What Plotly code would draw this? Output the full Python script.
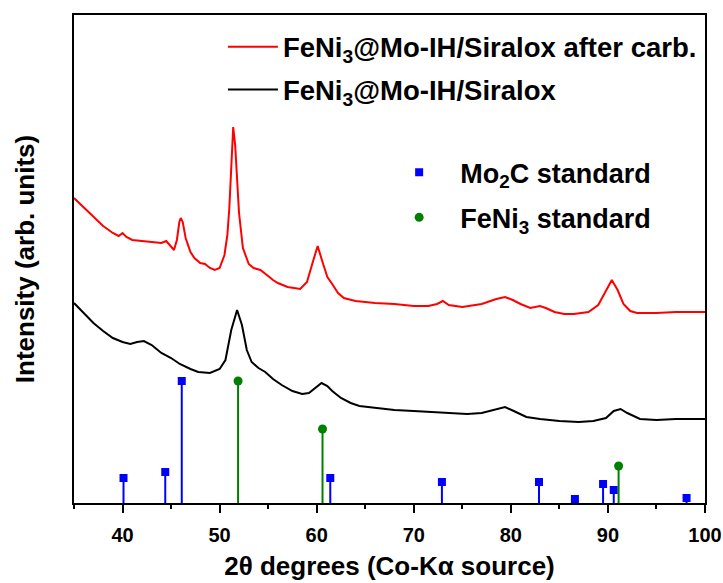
import plotly.graph_objects as go

# ---- data (2theta in degrees, intensity in arbitrary units) ----
red_x = [35, 36, 37, 38, 39, 39.6, 40.0, 40.4, 41, 42, 43, 44.0, 44.5, 45.0, 45.3, 45.6, 45.85, 46.0,
         46.2, 46.5, 47.0, 47.4, 48, 48.5, 49, 49.5, 50, 50.5, 50.8, 51.0, 51.2, 51.4, 51.6, 51.8, 52.0,
         52.4, 53.0, 53.5, 54.2, 55, 55.5, 56, 57, 58.3, 59, 59.6, 60.1, 60.6, 61.1, 61.6, 62.2, 62.8,
         64, 66, 68, 70, 71.5, 72.4, 73.0, 73.6, 75, 77, 78.5, 79.4, 80.2, 81, 82, 83, 83.6, 84.5, 85.5,
         86.5, 88, 89, 89.8, 90.4, 91, 91.6, 92.3, 93, 95, 97, 100]
red_y = [305, 296, 286, 277, 270, 267, 270, 266, 263, 262, 261, 260, 262, 257, 253, 263, 281, 285,
         281, 265, 251, 245, 240, 239, 235, 233, 235, 248, 268, 295, 343, 376, 358, 320, 290,
         255, 239, 235, 233, 227, 223, 220, 216, 214, 221, 241, 257, 241, 226, 219, 210, 205,
         202, 200, 199, 197, 197, 199, 202, 198, 196, 199, 204, 206, 203, 199, 195, 197, 195, 191, 189,
         189, 191, 198, 213, 223, 213, 199, 192, 190, 190, 191, 191]

black_x = [35, 36, 37, 38, 39, 40, 40.8, 41.5, 42.2, 43, 44, 45, 45.9, 47, 47.8, 49, 50, 50.6, 51.2,
           51.8, 52.3, 52.8, 53.3, 54, 54.7, 55.5, 56.4, 57.5, 58.5, 59.2, 59.8, 60.5, 61.1, 61.6,
           62.5, 63.5, 64.4, 66, 68, 70, 72, 74, 75.5, 77, 78.3, 79.4, 80.3, 81.6, 83, 85, 87, 88.5,
           89.8, 90.6, 91.3, 92, 93.3, 95, 97, 100]
black_y = [200, 190, 180, 172, 165, 161, 159, 161, 162, 158, 150, 145, 139, 134, 131, 130, 134, 143, 173,
           193, 178, 153, 141, 135, 131, 124, 118, 112, 109, 110, 115, 120, 117, 112,
           105, 100, 97, 95, 93, 92, 91, 90, 89, 90, 93, 96, 92, 86, 84, 82, 81, 82,
           85, 92, 94, 90, 84, 83, 84, 84]

mo2c_x = [40.1, 44.4, 46.1, 61.4, 72.9, 82.9, 86.6, 89.5, 90.6, 98.1]
mo2c_y = [25, 31, 122, 25, 21, 21, 4, 19, 13, 5]

feni3_x = [51.9, 60.6, 91.1]
feni3_y = [122, 74, 37]

FONT = "Arial, Liberation Sans, sans-serif"

fig = go.Figure()

fig.add_trace(go.Scatter(
    x=red_x, y=red_y, mode="lines", line=dict(color="#ff0000", width=2),
    name="FeNi<sub>3</sub>@Mo-IH/Siralox after carb.", legend="legend", legendgroup="a"))
fig.add_trace(go.Scatter(
    x=black_x, y=black_y, mode="lines", line=dict(color="#000000", width=2),
    name="FeNi<sub>3</sub>@Mo-IH/Siralox", legend="legend", legendgroup="b"))

fig.add_trace(go.Scatter(
    x=mo2c_x, y=mo2c_y, mode="markers",
    marker=dict(symbol="square", size=8, color="#0000ff"),
    error_y=dict(type="data", symmetric=False, array=[0] * len(mo2c_y), arrayminus=mo2c_y,
                 color="#0000ff", thickness=2, width=0),
    name="Mo<sub>2</sub>C standard", legend="legend2", legendgroup="c"))
fig.add_trace(go.Scatter(
    x=feni3_x, y=feni3_y, mode="markers",
    marker=dict(symbol="circle", size=9, color="#008000"),
    error_y=dict(type="data", symmetric=False, array=[0] * len(feni3_y), arrayminus=feni3_y,
                 color="#008000", thickness=2, width=0),
    name="FeNi<sub>3</sub> standard", legend="legend2", legendgroup="d"))

fig.update_layout(
    width=723, height=583,
    margin=dict(l=74, r=18, t=15, b=80, autoexpand=False),
    paper_bgcolor="white", plot_bgcolor="white",
    font=dict(family=FONT, size=26, color="black", weight="bold"),
    showlegend=True,
    legend=dict(x=0.236, y=0.985, xanchor="left", yanchor="top", bgcolor="rgba(0,0,0,0)",
                itemwidth=50,
                font=dict(family=FONT, size=27.5, color="black", weight="bold"),
                traceorder="grouped", tracegroupgap=4),
    legend2=dict(x=0.482, y=0.727, xanchor="left", yanchor="top", bgcolor="rgba(0,0,0,0)",
                 itemwidth=72,
                 font=dict(family=FONT, size=27, color="black", weight="bold"),
                 traceorder="grouped", tracegroupgap=7),
    xaxis=dict(range=[35, 100], dtick=10, tick0=40, ticks="outside", ticklen=8, tickwidth=2,
               tickcolor="black", automargin=False, ticklabelstandoff=5,
               minor=dict(dtick=5, tick0=35, ticks="outside", ticklen=4, tickwidth=2, tickcolor="black"),
               showline=True, linecolor="black", linewidth=2, mirror=True, showgrid=False,
               zeroline=False,
               tickfont=dict(family=FONT, size=20, color="black", weight="bold"),
               title=dict(text="2θ degrees (Co-Kα source)", standoff=12,
                          font=dict(family=FONT, size=26, color="black", weight="bold"))),
    yaxis=dict(range=[0, 488], showticklabels=False, ticks="", showline=True, linecolor="black",
               linewidth=2, mirror=True, showgrid=False, zeroline=False, automargin=False,
               title=dict(text="Intensity (arb. units)", standoff=30,
                          font=dict(family=FONT, size=26, color="black", weight="bold"))),
)

fig.write_html("out.html")
